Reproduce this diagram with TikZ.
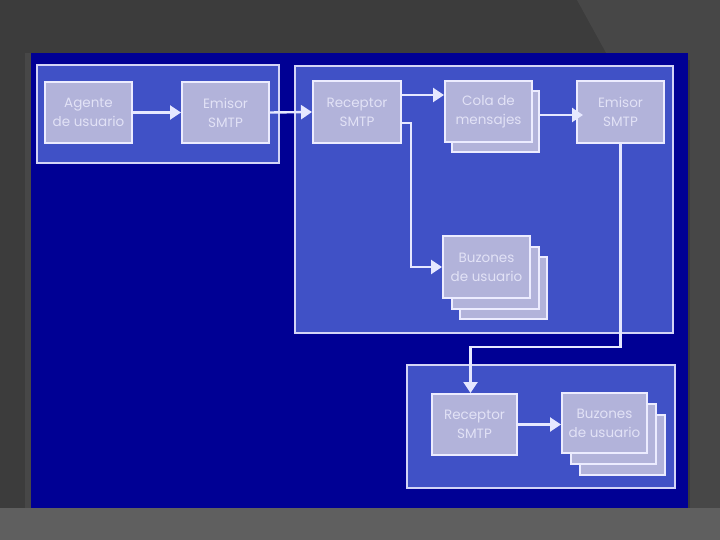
\documentclass[tikz,border=0pt]{standalone}
\usepackage{fontspec}
\setmainfont{Poppins}
\usetikzlibrary{shadows,arrows.meta}
\definecolor{bgdark}{HTML}{3C3C3C}
\definecolor{bglight}{HTML}{474747}
\definecolor{bgband}{HTML}{5F5F5F}
\definecolor{panel}{HTML}{000094}
\definecolor{framefill}{HTML}{4051C6}
\definecolor{frameline}{HTML}{D2D4F6}
\definecolor{boxfill}{HTML}{B2B3DA}
\definecolor{boxline}{HTML}{ECECFF}
\definecolor{boxtext}{HTML}{E2E2F6}
\definecolor{wire}{HTML}{E6E8FF}
\tikzset{
  frame/.style={draw=frameline, fill=framefill, line width=2.2pt},
  box/.style={draw=boxline, fill=boxfill, line width=2pt, align=center,
    text=boxtext, font=\fontsize{13.5}{19}\selectfont, inner sep=0pt},
  stackone/.style={copy shadow={shadow xshift=7pt, shadow yshift=-10pt}},
  stacktwo/.style={double copy shadow={shadow xshift=8.5pt, shadow yshift=-10.5pt}},
  wirearrow/.style={draw=wire, line width=2.4pt,
    -{Triangle[length=11pt,width=14pt]}},
}
\begin{document}
\begin{tikzpicture}[x=1pt,y=-1pt]
\useasboundingbox (0,0) rectangle (720,540);
% background
\fill[bgdark] (0,0) rectangle (720,540);
\fill[bglight] (577,0) -- (720,0) -- (720,540) -- (690,540) -- (690,60) -- (610,60) -- cycle;
\fill[bglight] (25,53) rectangle (31,508);
\fill[bgband] (0,508) rectangle (720,540);
% panel
\fill[panel] (31,53) rectangle (688,508);
% frames
\draw[frame] (37,65) rectangle (279,163);
\draw[frame] (295,66) rectangle (673,333);
\draw[frame] (407,365) rectangle (675,488);
% nodes
\node[box, minimum width=87pt, minimum height=61pt] (agente) at (88.5,112.5) {Agente\\de usuario};
\node[box, minimum width=87pt, minimum height=61pt] (emisorA) at (225.5,112.5) {Emisor\\SMTP};
\node[box, minimum width=88pt, minimum height=62pt] (receptorA) at (357,112) {Receptor\\SMTP};
\node[box, stackone, minimum width=87pt, minimum height=61pt] (cola) at (488.5,111.5) {Cola de\\mensajes};
\node[box, minimum width=87pt, minimum height=62pt] (emisorB) at (620.5,112) {Emisor\\SMTP};
\node[box, stacktwo, minimum width=87pt, minimum height=62pt] (buzonesA) at (486.5,267) {Buzones\\de usuario};
\node[box, minimum width=85pt, minimum height=61pt] (receptorB) at (474.5,424.5) {Receptor\\SMTP};
\node[box, double copy shadow={shadow xshift=9pt, shadow yshift=-11pt}, minimum width=85pt, minimum height=60pt] (buzonesB) at (604.5,423) {Buzones\\de usuario};
% connectors
\draw[wirearrow] (agente.east) -- (emisorA.west);
\draw[wirearrow] (emisorA.east) -- (receptorA.west);
\draw[wirearrow] ([yshift=17pt]receptorA.east) -- ([yshift=17pt]receptorA.east -| cola.west);
\draw[wirearrow] ([xshift=7pt,yshift=-3.5pt]cola.east) -- ([xshift=7pt,yshift=-3.5pt]cola.east -| emisorB.west);
\draw[wirearrow] ([yshift=-11pt]receptorA.east) -- ++(9,0) |- (buzonesA.west);
\coordinate (bend) at ([xshift=-4pt]receptorB.north |- 0,347);
\draw[wirearrow] (emisorB.south) |- (bend) -- ([xshift=-4pt]receptorB.north);
\draw[wirearrow] (receptorB.east) -- (receptorB.east -| buzonesB.west);
\end{tikzpicture}
\end{document}
